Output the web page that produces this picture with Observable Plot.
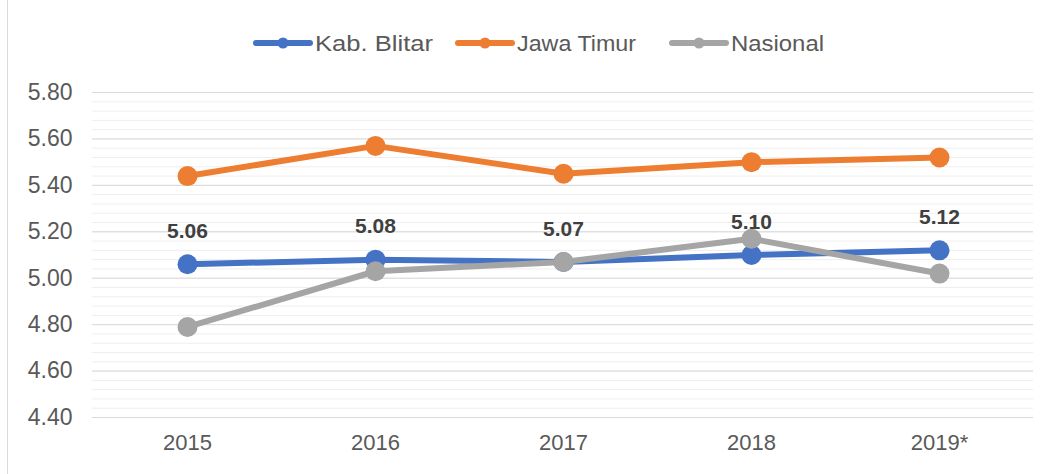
<!DOCTYPE html>
<html>
<head>
<meta charset="utf-8">
<script src="https://cdn.jsdelivr.net/npm/d3@7"></script>
<script src="https://cdn.jsdelivr.net/npm/@observablehq/plot@0.6"></script>
<style>
  html, body { margin: 0; padding: 0; background: #fff; }
  #wrap { position: relative; width: 1054px; height: 474px; overflow: hidden; font-family: "Liberation Sans", Arial, sans-serif; }
  #border { position: absolute; left: 7px; top: 0; width: 1px; height: 474px; background: #d9d9d9; }
  #legend { position: absolute; left: 0; top: 0; }
  #chart { position: absolute; left: 0; top: 70px; }
</style>
</head>
<body>
<div id="wrap">
  <div id="border"></div>
  <svg id="legend" width="1054" height="70"></svg>
  <div id="chart"></div>
</div>
<script>
const years = ["2015", "2016", "2017", "2018", "2019*"];
const seriesNames = ["Kab. Blitar", "Jawa Timur", "Nasional"];
const blitar = [5.06, 5.08, 5.07, 5.10, 5.12];
const jatim = [5.44, 5.57, 5.45, 5.50, 5.52];
const nasional = [4.79, 5.03, 5.07, 5.17, 5.02];
const colors = ["#4472C4", "#ED7D31", "#A5A5A5"];
const yTicks = [4.40, 4.60, 4.80, 5.00, 5.20, 5.40, 5.60, 5.80];

const seriesValues = [blitar, jatim, nasional];
const rows = seriesNames.map((name, s) => years.map((year, i) => ({series: name, year, value: seriesValues[s][i]})));
const minorTicks = d3.range(0, 36).map(i => +(4.4 + i * 0.04).toFixed(2));

// legend (above the chart)
const legendSwatchX = [253, 455, 669];
const legendTextWidth = [118, 119, 93];
const lg = d3.select("#legend");
seriesNames.forEach((name, i) => {
  const x0 = legendSwatchX[i];
  lg.append("line").attr("x1", x0 + 3).attr("x2", x0 + 57).attr("y1", 43).attr("y2", 43)
    .attr("stroke", colors[i]).attr("stroke-width", 6).attr("stroke-linecap", "round");
  lg.append("circle").attr("cx", x0 + 30).attr("cy", 43).attr("r", 5.5).attr("fill", colors[i]);
  lg.append("text").attr("x", x0 + 62).attr("y", 43).attr("dy", "0.36em")
    .attr("font-size", 22).attr("fill", "#595959")
    .attr("textLength", legendTextWidth[i]).attr("lengthAdjust", "spacingAndGlyphs")
    .text(name);
});

const marks = [
  Plot.ruleY(minorTicks, {stroke: "#eeeeee", strokeWidth: 1}),
  Plot.ruleY(yTicks, {stroke: "#d9d9d9", strokeWidth: 1}),
  Plot.axisY({ticks: yTicks, tickFormat: d => d.toFixed(2), tickSize: 0, tickPadding: 20, fontSize: 23, fill: "#595959"}),
  Plot.axisX({tickSize: 0, tickPadding: 17, fontSize: 22, fill: "#595959"})
];
rows.forEach((data, i) => {
  marks.push(Plot.line(data, {x: "year", y: "value", stroke: colors[i], strokeWidth: 6}));
  marks.push(Plot.dot(data, {x: "year", y: "value", fill: colors[i], r: 10}));
});
marks.push(Plot.text(rows[0], {x: "year", y: "value", text: d => d.value.toFixed(2), dy: -33, fontSize: 21, fontWeight: "bold", fill: "#404040"}));

const chart = Plot.plot({
  width: 1054,
  height: 404,
  marginTop: 22,
  marginBottom: 57,
  marginLeft: 92,
  marginRight: 21,
  style: {fontFamily: "'Liberation Sans', Arial, sans-serif", color: "#595959", background: "transparent"},
  x: {type: "point", domain: years, padding: 0.5, label: null},
  y: {domain: [4.4, 5.8], label: null},
  marks
});
document.getElementById("chart").appendChild(chart);
</script>
</body>
</html>
